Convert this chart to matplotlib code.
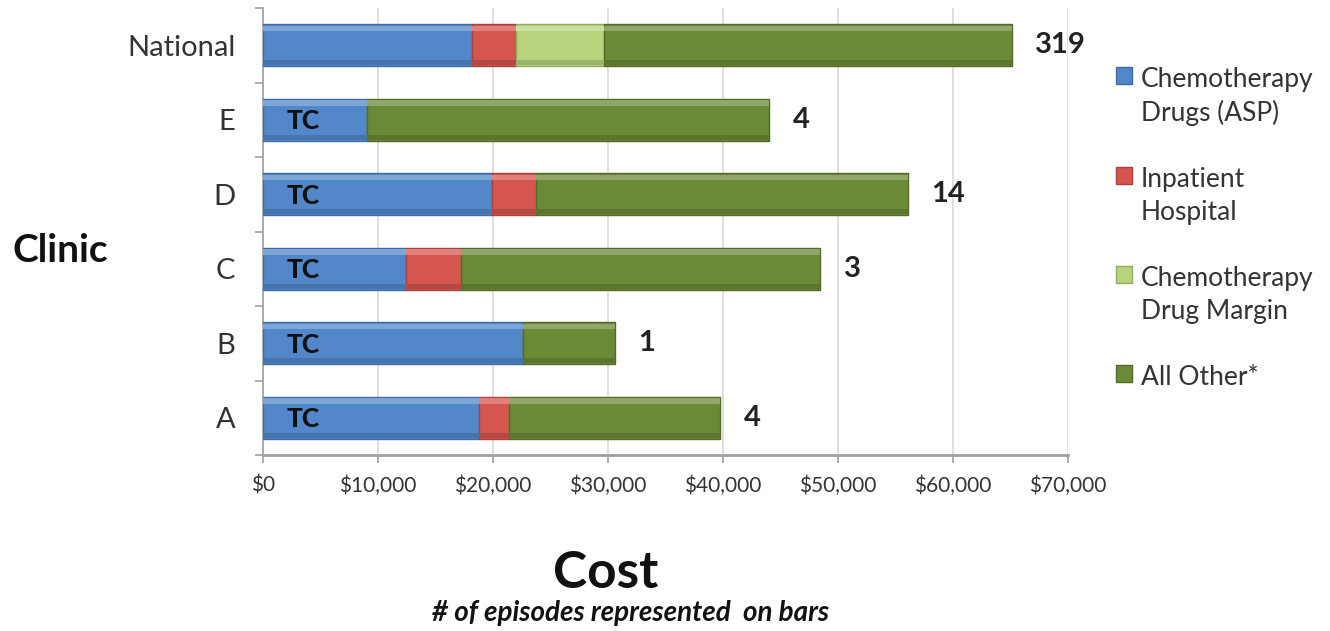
import matplotlib
matplotlib.use("Agg")
import matplotlib.pyplot as plt
import numpy as np
from matplotlib.ticker import FuncFormatter, FixedLocator
from matplotlib.patches import Patch
import matplotlib.colors as mcolors

plt.rcParams['font.family'] = ['Lato', 'DejaVu Sans']

clinics = ["A", "B", "C", "D", "E", "National"]
chemo_asp = [18750, 22650, 12400, 19950, 9000, 18200]
inpatient = [2600, 0, 4800, 3750, 0, 3800]
drug_margin = [0, 0, 0, 0, 0, 7650]
all_other = [18400, 7950, 31250, 32350, 35000, 35450]
episodes = [4, 1, 3, 14, 4, 319]
tc_label = ["TC", "TC", "TC", "TC", "TC", ""]
series_names = ["Chemotherapy\nDrugs (ASP)", "Inpatient\nHospital",
                "Chemotherapy\nDrug Margin", "All Other*"]
x_ticks = [0, 10000, 20000, 30000, 40000, 50000, 60000, 70000]

colors = ["#5288CA", "#D4564F", "#B7D47C", "#6B8A37"]
edges = ["#3D6CA6", "#A8403B", "#8FAF5A", "#4F6B27"]


def mix(c, w, t):
    a = np.array(mcolors.to_rgb(c))
    b = np.array(mcolors.to_rgb(w))
    return tuple(a * (1 - t) + b * t)


fig = plt.figure(figsize=(13.3, 6.31), dpi=100)
ax = fig.add_axes([263/1330, 1 - 455/631, (1068 - 263)/1330, (455 - 8)/631])

y = np.arange(len(clinics))
h = 0.56
band = 0.07
left = np.zeros(len(clinics))
for vals, c, e in zip([chemo_asp, inpatient, drug_margin, all_other], colors, edges):
    vals = np.array(vals, dtype=float)
    ax.barh(y, vals, height=h, left=left, color=c, edgecolor=e, linewidth=1.0, zorder=3)
    ax.barh(y + h / 2 - band / 2 - 0.02, vals, height=band, left=left,
            color=mix(c, "white", 0.25), linewidth=0, zorder=4)
    ax.barh(y - h / 2 + band / 2 + 0.01, vals, height=band, left=left,
            color=mix(c, "black", 0.15), linewidth=0, zorder=4)
    left = left + vals

totals = left
for yi, tot, n in zip(y, totals, episodes):
    ax.annotate(str(n), xy=(tot, yi), xytext=(17, 0), textcoords="offset points",
                ha="left", va="center", fontsize=21, fontweight="bold", color="#222222")
for yi, t in zip(y, tc_label):
    if t:
        ax.annotate(t, xy=(0, yi), xytext=(17, -1), textcoords="offset points",
                    ha="left", va="center", fontsize=19, fontweight="black", color="#111111",
                    zorder=6)

ax.set_xlim(0, 70000)
ax.set_ylim(-0.5, len(clinics) - 0.5)
ax.set_xticks(x_ticks)
ax.xaxis.set_major_formatter(FuncFormatter(lambda v, p: "${:,.0f}".format(v)))
for lab in ax.get_xticklabels():
    lab.set_fontsize(15)
    lab.set_color("#333333")
ax.tick_params(axis="x", length=6, width=1.2, color="#A0A0A0", pad=9)

ax.set_yticks(y)
ax.set_yticklabels(clinics, fontsize=21, color="#333333")
ax.yaxis.set_minor_locator(FixedLocator(np.arange(-0.5, len(clinics), 1.0)))
ax.tick_params(axis="y", which="major", length=0, pad=20)
ax.tick_params(axis="y", which="minor", length=6, width=1.2, color="#A0A0A0")

ax.grid(axis="x", color="#D9D9D9", linewidth=1.2, zorder=0)
ax.set_axisbelow(True)
for s in ["top", "right"]:
    ax.spines[s].set_visible(False)
ax.spines["left"].set_color("#A0A0A0")
ax.spines["left"].set_linewidth(1.2)
ax.spines["bottom"].set_color("#A0A0A0")
ax.spines["bottom"].set_linewidth(2)

handles = [Patch(facecolor=c, edgecolor=e, linewidth=1) for c, e in zip(colors, edges)]
leg = fig.legend(handles, series_names, loc="upper left", bbox_to_anchor=(1092/1330, 1 - 43/631),
                 frameon=False, fontsize=19, handlelength=0.6, handleheight=0.6,
                 handletextpad=0.35, labelspacing=1.55, labelcolor="#333333")
for t in leg.get_texts():
    t.set_linespacing(1.4)
for col in leg._legend_handle_box.get_children():
    for hp in col.get_children():
        hp.align = "top"

fig.text(12/1330, 1 - 250/631, "Clinic", fontsize=28, fontweight="bold", ha="left", va="center", color="#111111")
fig.text(606/1330, 1 - 574/631, "Cost", fontsize=37, fontweight="bold", ha="center", va="center", color="#111111")
fig.text(631/1330, 1 - 613/631, "# of episodes represented  on bars", fontsize=20,
         fontweight="bold", fontstyle="italic", ha="center", va="center", color="#111111")

fig.savefig("out.png", dpi=100)
